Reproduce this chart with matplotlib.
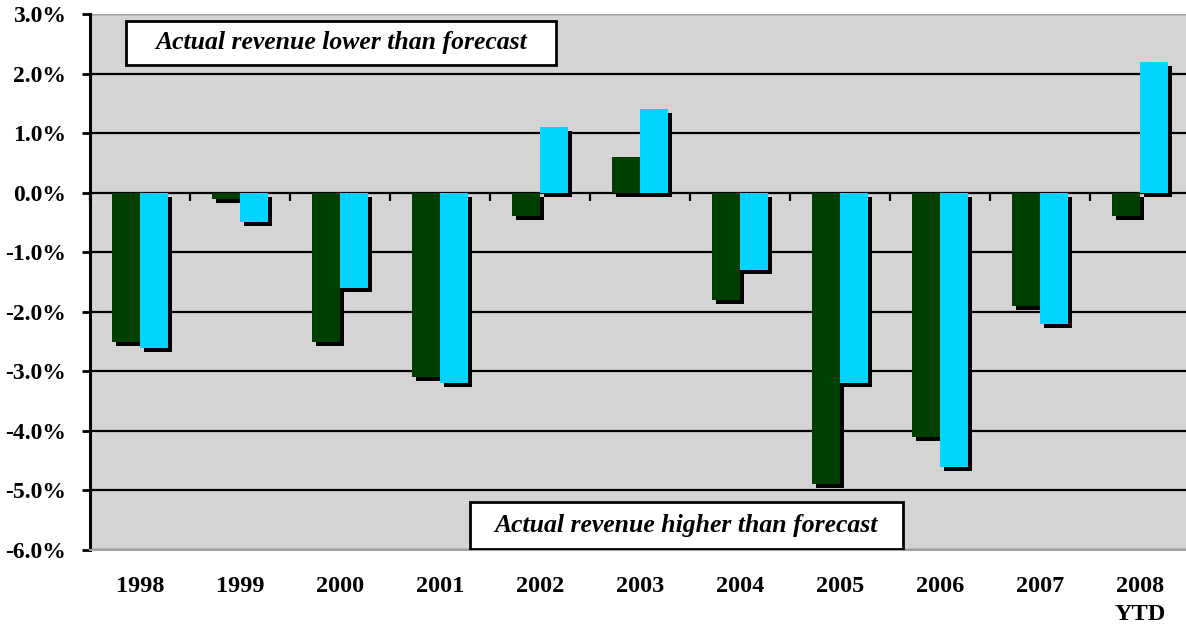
import matplotlib
matplotlib.use("Agg")
import matplotlib.pyplot as plt
import matplotlib.transforms as mtransforms
from matplotlib.patches import Rectangle
from matplotlib.ticker import FuncFormatter, MultipleLocator, NullFormatter
import numpy as np

categories = ["1998", "1999", "2000", "2001", "2002", "2003", "2004", "2005", "2006", "2007", "2008\nYTD"]
series_dark = [-2.5, -0.1, -2.5, -3.1, -0.4, 0.6, -1.8, -4.9, -4.1, -1.9, -0.4]
series_cyan = [-2.6, -0.5, -1.6, -3.2, 1.1, 1.4, -1.3, -3.2, -4.6, -2.2, 2.2]
label_top = "Actual revenue lower than forecast"
label_bottom = "Actual revenue higher than forecast"

W, H = 1186, 631
fig = plt.figure(figsize=(W / 100, H / 100), dpi=100)
fig.patch.set_facecolor("white")
ax = fig.add_axes([90 / W, 1 - 550 / H, 1100 / W, 536 / H])
ax.set_facecolor("#D4D4D4")

ymin, ymax = -6.0, 3.0
ax.set_ylim(ymin, ymax)
ax.set_xlim(-0.5, len(categories) - 0.5)

x = np.arange(len(categories))
bw = 0.28
shadow = mtransforms.offset_copy(ax.transData, fig=fig, x=4, y=-4, units="dots")

colors = ["#003F00", "#00D4FF"]
for vals, off in [(series_dark, -bw / 2), (series_cyan, bw / 2)]:
    ax.bar(x + off, vals, width=bw, color="black", transform=shadow, zorder=2, linewidth=0)
for vals, off, col in [(series_dark, -bw / 2, colors[0]), (series_cyan, bw / 2, colors[1])]:
    ax.bar(x + off, vals, width=bw, color=col, zorder=3, linewidth=0)

# gridlines
ax.yaxis.set_major_locator(MultipleLocator(1.0))
ax.grid(axis="y", color="black", linewidth=1.6, zorder=1)
ax.set_axisbelow(True)

# zero axis with category boundary ticks
zfrac = (0 - ymin) / (ymax - ymin)
sec = ax.secondary_xaxis(zfrac)
sec.set_xticks(np.arange(len(categories) + 1) - 0.5)
sec.xaxis.set_major_formatter(NullFormatter())
sec.xaxis.set_ticks_position("bottom")
sec.tick_params(axis="x", direction="out", length=6, width=1.6, color="black")
sec.spines["bottom"].set_linewidth(1.8)
sec.spines["top"].set_visible(False)

# main axes styling
for s in ["top", "right"]:
    ax.spines[s].set_visible(False)
ax.spines["left"].set_linewidth(2.2)
ax.spines["left"].set_color("black")
ax.spines["bottom"].set_color("#A0A0A0")
ax.spines["bottom"].set_linewidth(1.5)
ax.axhline(ymax, color="#A0A0A0", linewidth=1.5, zorder=1)

ax.yaxis.set_major_formatter(FuncFormatter(lambda v, p: f"{v:.1f}%"))
ax.tick_params(axis="y", direction="out", length=6, width=2, pad=11)
for lab in ax.get_yticklabels():
    lab.set_fontfamily("Liberation Serif")
    lab.set_fontweight("bold")
    lab.set_fontsize(17)

ax.set_xticks(x)
ax.set_xticklabels(categories, fontfamily="Liberation Serif", fontweight="bold", fontsize=17.5,
                   linespacing=1.42, va="top")
ax.tick_params(axis="x", length=0, pad=19)

# annotation boxes
boxes = [(-0.14, 2.14, 4.30, 0.75, label_top), (3.30, -5.99, 4.33, 0.79, label_bottom)]
for bx, by, bwid, bht, txt in boxes:
    ax.add_patch(Rectangle((bx, by), bwid, bht, facecolor="white", edgecolor="black",
                           linewidth=2, zorder=5))
    ax.text(bx + bwid / 2, by + bht / 2, txt, ha="center", va="center", zorder=6,
            fontfamily="Liberation Serif", fontweight="bold", fontstyle="italic", fontsize=18.5)

fig.savefig("out.png", dpi=100)
